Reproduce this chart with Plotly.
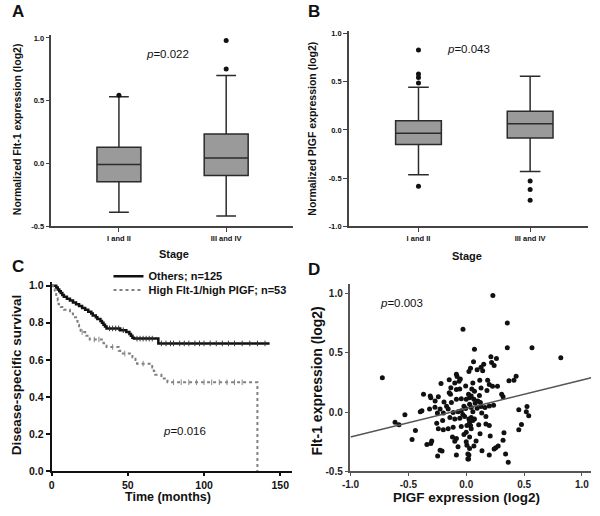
import numpy as np
import plotly.graph_objects as go

# ---------------- data ----------------
stage_labels = ["I and II", "III and IV"]
stage_pos = [0, 1]

# Panel A: Flt-1 by stage (box statistics)
a_q1 = [-0.147, -0.097]
a_med = [-0.010, 0.042]
a_q3 = [0.129, 0.234]
a_lo = [-0.390, -0.420]
a_hi = [0.530, 0.700]
a_out_x = [0, 1, 1]
a_out_y = [0.543, 0.753, 0.980]

# Panel B: PlGF by stage
b_q1 = [-0.152, -0.084]
b_med = [-0.034, 0.064]
b_q3 = [0.095, 0.193]
b_lo = [-0.466, -0.432]
b_hi = [0.443, 0.557]
b_out_x = [0, 0, 0, 0, 0, 1, 1, 1]
b_out_y = [0.828, 0.580, 0.544, 0.486, -0.584, -0.530, -0.618, -0.730]

# Panel C: Kaplan-Meier
others_t = [0, 3, 4, 5, 6, 7, 8, 10, 12, 14, 16, 18, 20, 22, 24, 26, 27, 29, 30, 32, 33, 34, 35, 36,
            45, 49, 51, 52, 53, 54, 70, 143]
others_s = [1.0, 0.99, 0.98, 0.97, 0.96, 0.95, 0.94, 0.93, 0.92, 0.91, 0.90, 0.89, 0.88, 0.87, 0.86,
            0.85, 0.84, 0.83, 0.82, 0.81, 0.80, 0.79, 0.78, 0.77, 0.76, 0.75, 0.74, 0.73, 0.72, 0.715,
            0.689, 0.689]
others_censor = [38, 40, 42, 44, 47, 56, 58, 60, 62, 64, 66, 72, 75, 78, 80, 84, 87, 90, 94, 97, 100,
                 104, 108, 112, 116, 120, 125, 130, 135, 140]
high_t = [0, 1, 2, 3, 4, 4.5, 6, 8, 12, 14, 16, 17, 18, 19, 22, 25, 34, 36, 44, 45, 53, 55, 56, 66,
          67, 68, 72, 76, 135]
high_s = [1.0, 0.98, 0.96, 0.94, 0.92, 0.90, 0.885, 0.87, 0.85, 0.83, 0.81, 0.79, 0.77, 0.75, 0.73,
          0.71, 0.69, 0.67, 0.65, 0.635, 0.615, 0.60, 0.58, 0.56, 0.54, 0.52, 0.50, 0.48, 0.0]
high_censor = [20, 28, 31, 40, 48, 60, 80, 85, 90, 95, 100, 105, 110, 115, 120, 125]

# Panel D: scatter PlGF (x) vs Flt-1 (y)
d_x = [0.23, 0.355, -0.028, 0.071, 0.355, 0.568, 0.817, 0.213, 0.261, 0.219, 0.241, 0.063, 0.151,
       0.128, 0.037, 0.094, 0.142, 0.023, 0.431, 0.412, 0.117, 0.185, 0.369, -0.725,
       0.057, 0.199, 0.227, 0.27, 0.048, 0.128, 0.179, 0.071, 0.306, 0.318, 0.114, 0.029, 0.066, 0.1,
       0.077, 0.122, 0.029, 0.128, 0.199, 0.236, 0.043, 0.094, 0.162, 0.454, 0.525, 0.519, 0.54,
       0.057, 0.134, 0.17, 0.043, 0.071, 0.029, 0.057, 0.108, 0.17, 0.199, 0.037, 0.477, 0.454,
       0.043, 0.119, 0.207, 0.326, 0.029, 0.085, 0.318, 0.066, 0.276, 0.255, 0.241, 0.136, 0.34,
       0.199, 0.023, 0.02, 0.363,
       -0.218, -0.147, -0.062, -0.051, -0.369, -0.311, -0.306, -0.241, -0.147, -0.136, -0.085,
       -0.056, -0.269, -0.192, -0.128, -0.085, -0.043, 0.0, 0.043, -0.317, -0.383, -0.397, -0.53,
       -0.615, -0.581, -0.226, -0.249, -0.156, -0.198, -0.113, -0.071, -0.043, -0.005, -0.141,
       -0.099, -0.056, -0.014, 0.023, -0.204, -0.255, -0.439, -0.468, -0.241, -0.198, -0.156,
       -0.113, -0.043, 0.006, -0.119, -0.085, -0.099, -0.071, 0.006, 0.029, -0.298, -0.306, -0.34,
       -0.226, -0.209, -0.247, -0.085, 0.014, 0.014,
       -0.085, -0.079, -0.099, -0.133, -0.005, 0.02, -0.02, -0.03, 0.0, -0.02, 0.0, -0.17, -0.27]
d_y = [0.986, 0.753, 0.70, 0.532, 0.545, 0.545, 0.46, 0.468, 0.454, 0.42, 0.393, 0.426, 0.404,
       0.379, 0.371, 0.357, 0.349, 0.343, 0.302, 0.269, 0.269, 0.269, 0.266, 0.29,
       0.246, 0.233, 0.219, 0.219, 0.196, 0.204, 0.183, 0.177, 0.15, 0.13, 0.141, 0.121, 0.108,
       0.094, 0.075, 0.08, 0.066, 0.047, 0.052, 0.058, 0.038, 0.033, 0.038, 0.019, 0.047, 0.002,
       -0.031, 0.002, -0.008, -0.037, -0.045, -0.058, -0.086, -0.072, -0.108, -0.1, -0.114, -0.114,
       -0.106, -0.15, -0.141, -0.183, -0.203, -0.175, -0.211, -0.244, -0.239, -0.286, -0.288,
       -0.302, -0.313, -0.328, -0.355, -0.363, -0.363, -0.397, -0.424,
       0.241, 0.274, 0.26, 0.279, 0.15, 0.136, 0.121, 0.13, 0.163, 0.15, 0.191, 0.196, 0.094, 0.086,
       0.08, 0.108, 0.113, 0.108, 0.136, 0.025, 0.011, 0.002, -0.022, -0.086, -0.108, 0.025,
       -0.008, 0.025, -0.008, -0.003, 0.002, 0.011, 0.03, -0.045, -0.058, -0.053, -0.037, -0.058,
       -0.072, -0.095, -0.155, -0.233, -0.141, -0.15, -0.141, -0.128, -0.122, -0.114, -0.211,
       -0.224, -0.247, -0.294, -0.28, -0.308, -0.244, -0.266, -0.274, -0.322, -0.33, -0.372,
       -0.363, -0.355, -0.397,
       0.321, 0.30, 0.247, 0.205, 0.22, 0.15, 0.05, -0.02, -0.17, -0.19, -0.25, 0.05, 0.04]
fit_x = [-1.0, 1.08]
fit_y = [-0.21, 0.29]

p_texts = ["<i>p</i>=0.022", "<i>p</i>=0.043", "<i>p</i>=0.016", "<i>p</i>=0.003"]

# ---------------- figure ----------------
W, H = 600, 516
FONT = "Liberation Sans, Arial, sans-serif"
fig = go.Figure()

def px(x):
    return x / W

def py(y):
    return 1 - y / H

box_style = dict(fillcolor="#9a9a9a", line=dict(color="#2b2b2b", width=1.5), width=0.41,
                 whiskerwidth=0.45, boxpoints=False, showlegend=False, hoverinfo="skip")

fig.add_trace(go.Box(x=stage_pos, q1=a_q1, median=a_med, q3=a_q3, lowerfence=a_lo,
                     upperfence=a_hi, xaxis="x", yaxis="y", **box_style))
fig.add_trace(go.Scatter(x=a_out_x, y=a_out_y, mode="markers", xaxis="x", yaxis="y",
                         marker=dict(color="#111", size=5), showlegend=False))
fig.add_trace(go.Box(x=stage_pos, q1=b_q1, median=b_med, q3=b_q3, lowerfence=b_lo,
                     upperfence=b_hi, xaxis="x2", yaxis="y2", **box_style))
fig.add_trace(go.Scatter(x=b_out_x, y=b_out_y, mode="markers", xaxis="x2", yaxis="y2",
                         marker=dict(color="#111", size=5), showlegend=False))

# KM curves
fig.add_trace(go.Scatter(x=others_t, y=others_s, mode="lines", line_shape="hv",
                         line=dict(color="#111", width=2.5), name="Others; n=125",
                         xaxis="x3", yaxis="y3", legend="legend"))
fig.add_trace(go.Scatter(x=high_t, y=high_s, mode="lines", line_shape="hv",
                         line=dict(color="#808080", width=2, dash="dot"),
                         name="High Flt-1/high PIGF; n=53", xaxis="x3", yaxis="y3",
                         legend="legend2"))

def step_at(ts, ss, cs):
    ts = np.asarray(ts, float)
    ss = np.asarray(ss, float)
    idx = np.searchsorted(ts, np.asarray(cs, float), side="right") - 1
    return ss[idx]

fig.add_trace(go.Scatter(x=others_censor, y=step_at(others_t, others_s, others_censor),
                         mode="markers", marker=dict(symbol="line-ns", size=4,
                                                     line=dict(color="#333", width=1)),
                         showlegend=False, xaxis="x3", yaxis="y3"))
fig.add_trace(go.Scatter(x=high_censor, y=step_at(high_t, high_s, high_censor),
                         mode="markers", marker=dict(symbol="line-ns", size=4,
                                                     line=dict(color="#888", width=1)),
                         showlegend=False, xaxis="x3", yaxis="y3"))

# Scatter
fig.add_trace(go.Scatter(x=d_x, y=d_y, mode="markers", marker=dict(color="#111", size=5),
                         showlegend=False, xaxis="x4", yaxis="y4"))
fig.add_trace(go.Scatter(x=fit_x, y=fit_y, mode="lines", line=dict(color="#555", width=1.5),
                         showlegend=False, xaxis="x4", yaxis="y4"))

ax_common = dict(showline=True, ticks="outside", showgrid=False, zeroline=False, mirror=False)
ab_line = dict(linecolor="#444", linewidth=1.5, tickcolor="#444", ticklen=4, tickwidth=1.2)
tick_small = dict(family=FONT, size=7.5, color="#111", weight="bold")
leg_font = dict(family=FONT, size=11, color="#111", weight="bold")

fig.update_layout(
    width=W, height=H, margin=dict(l=0, r=0, t=0, b=0),
    paper_bgcolor="white", plot_bgcolor="white",
    font=dict(family=FONT, color="#111"),
    xaxis=dict(domain=[px(43), px(288)], range=[-0.63, 1.62], tickvals=stage_pos,
               ticktext=stage_labels, tickfont=tick_small, anchor="y", **ax_common, **ab_line),
    yaxis=dict(domain=[py(227), py(33)], range=[-0.5, 1.02], tickvals=[-0.5, 0, 0.5, 1.0],
               ticktext=["-0.5", "0.0", "0.5", "1.0"], tickfont=tick_small, anchor="x",
               **ax_common, **ab_line),
    xaxis2=dict(domain=[px(345), px(588)], range=[-0.624, 1.52], tickvals=stage_pos,
                ticktext=stage_labels, tickfont=tick_small, anchor="y2", **ax_common, **ab_line),
    yaxis2=dict(domain=[py(227.3), py(29)], range=[-1.0, 1.02], tickvals=[-1, -0.5, 0, 0.5, 1.0],
                ticktext=["-1.0", "-0.5", "0.0", "0.5", "1.0"], tickfont=tick_small, anchor="x2",
                **ax_common, **ab_line),
    xaxis3=dict(domain=[px(43.3), px(287)], range=[0, 157.5], tickvals=[0, 50, 100, 150],
                tickfont=dict(family=FONT, size=10.5, color="#111", weight="bold"), anchor="y3",
                linecolor="#111", linewidth=2, tickcolor="#111", ticklen=3, tickwidth=1.5,
                **ax_common),
    yaxis3=dict(domain=[py(476.7), py(283.9)], range=[0, 1.02],
                tickvals=[0, 0.2, 0.4, 0.6, 0.8, 1.0],
                ticktext=["0.0", "0.2", "0.4", "0.6", "0.8", "1.0"],
                tickfont=dict(family=FONT, size=10.5, color="#111", weight="bold"), anchor="x3",
                linecolor="#111", linewidth=2, tickcolor="#111", ticklen=4, tickwidth=1.5,
                **ax_common),
    xaxis4=dict(domain=[px(346.7), px(591.1)], range=[-1.0, 1.08],
                tickvals=[-1, -0.5, 0, 0.5, 1.0], ticktext=["-1.0", "-0.5", "0.0", "0.5", "1.0"],
                tickfont=dict(family=FONT, size=10, color="#222", weight="bold"), anchor="y4",
                linecolor="#555", linewidth=1.5, tickcolor="#555", ticklen=3, tickwidth=1.2,
                **ax_common),
    yaxis4=dict(domain=[py(476.5), py(286.4)], range=[-0.5, 1.08],
                tickvals=[-0.5, 0, 0.5, 1.0], ticktext=["-0.5", "0.0", "0.5", "1.0"],
                tickfont=dict(family=FONT, size=10, color="#222", weight="bold"), anchor="x4",
                linecolor="#555", linewidth=1.5, tickcolor="#555", ticklen=4, tickwidth=1.2,
                **ax_common),
    legend=dict(x=px(101), y=py(278), xanchor="left", yanchor="middle", bgcolor="rgba(0,0,0,0)",
                font=leg_font, itemwidth=30),
    legend2=dict(x=px(101), y=py(292), xanchor="left", yanchor="middle", bgcolor="rgba(0,0,0,0)",
                 font=leg_font, itemwidth=30),
)

def ann(text, x, y, size, bold=True, angle=0, xanchor="center", color="#111"):
    fig.add_annotation(text=text, x=px(x), y=py(y), xref="paper", yref="paper",
                       showarrow=False, textangle=angle, xanchor=xanchor, yanchor="middle",
                       font=dict(family=FONT, size=size, color=color,
                                 weight="bold" if bold else "normal"))

# panel letters
ann("A", 1, 9, 17, xanchor="left")
ann("B", 302, 9, 17, xanchor="left")
ann("C", 1, 268, 17, xanchor="left")
ann("D", 302, 271, 17, xanchor="left")
# p values
ann(p_texts[0], 161, 52, 11.5, bold=False)
ann(p_texts[1], 467, 47, 11.5, bold=False)
ann(p_texts[2], 178, 436, 11.5, bold=False)
ann(p_texts[3], 398, 305, 11.5, bold=False)
# axis titles
ann("Normalized Flt-1 expression (log2)", 7.5, 128, 10.5, angle=-90)
ann("Stage", 168, 255, 11)
ann("Normalized PIGF expression (log2)", 307.5, 128, 10.5, angle=-90)
ann("Stage", 465, 257, 11)
ann("Disease-specific survival", 8, 378, 13.5, angle=-90)
ann("Time (months)", 161, 503, 12.5)
ann("Flt-1 expression (log2)", 313, 385, 14, angle=-90)
ann("PIGF expression (log2)", 464, 503, 13.5)

fig.write_html("out.html", config={"displayModeBar": False},
               post_script="document.body.style.margin='0px';")
